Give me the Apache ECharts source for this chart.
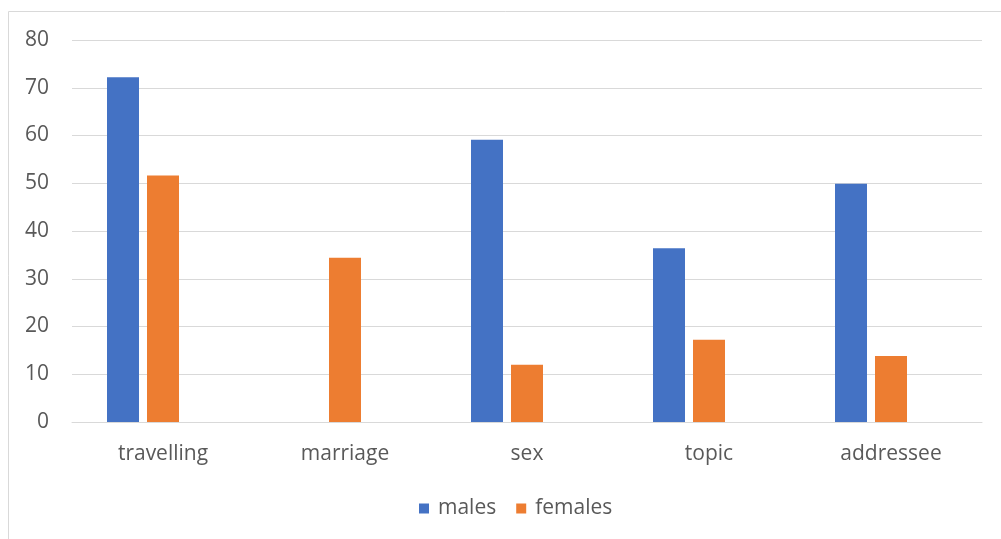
<!DOCTYPE html>
<html><head><meta charset="utf-8">
<script src="https://cdn.jsdelivr.net/npm/echarts@6/dist/echarts.min.js"></script>
<style>html,body{margin:0;padding:0;background:#fff}#c{width:1001px;height:539px}</style>
</head><body><div id="c"></div>
<script>
const categories = ['travelling', 'marriage', 'sex', 'topic', 'addressee'];
const males = [72.2, 0, 59.1, 36.4, 49.9];
const females = [51.6, 34.4, 12.0, 17.2, 13.8];
const spacer = [null, null, null, null, null];
const yTicks = [0, 10, 20, 30, 40, 50, 60, 70, 80];

const font = '"Open Sans", "Noto Sans", sans-serif';
const chart = echarts.init(document.getElementById('c'));
chart.setOption({
  animation: false,
  graphic: [{type: 'rect', shape: {x: 8.5, y: 11.5, width: 1000, height: 540}, style: {fill: 'none', stroke: '#d9d9d9', lineWidth: 1}, silent: true}],
  grid: {left: 72, right: 19, top: 40, bottom: 117, containLabel: false},
  legend: {
    data: ['males', 'females'], top: 493, left: 414, itemWidth: 10, itemHeight: 10, itemGap: 20,
    icon: 'rect', textStyle: {color: '#595959', fontSize: 21, fontFamily: font, padding: [0, 0, 0, 4]}
  },
  xAxis: {
    type: 'category', data: categories,
    axisLine: {lineStyle: {color: '#d9d9d9', width: 1}}, axisTick: {show: false},
    axisLabel: {color: '#595959', fontSize: 21, fontFamily: font, margin: 22}
  },
  yAxis: {
    type: 'value', min: yTicks[0], max: yTicks[yTicks.length - 1], interval: 10,
    axisLine: {show: false}, axisTick: {show: false},
    splitLine: {lineStyle: {color: '#d9d9d9', width: 1}},
    axisLabel: {color: '#595959', fontSize: 21, fontFamily: font, margin: 23}
  },
  series: [
    {name: 'males', type: 'bar', data: males, barWidth: 32, barGap: '25%', itemStyle: {color: '#4472C4'}},
    {name: 'females', type: 'bar', data: females, barWidth: 32, itemStyle: {color: '#ED7D31'}},
    {name: 'spacer', type: 'bar', data: spacer, barWidth: 32}
  ]
});
</script></body></html>
